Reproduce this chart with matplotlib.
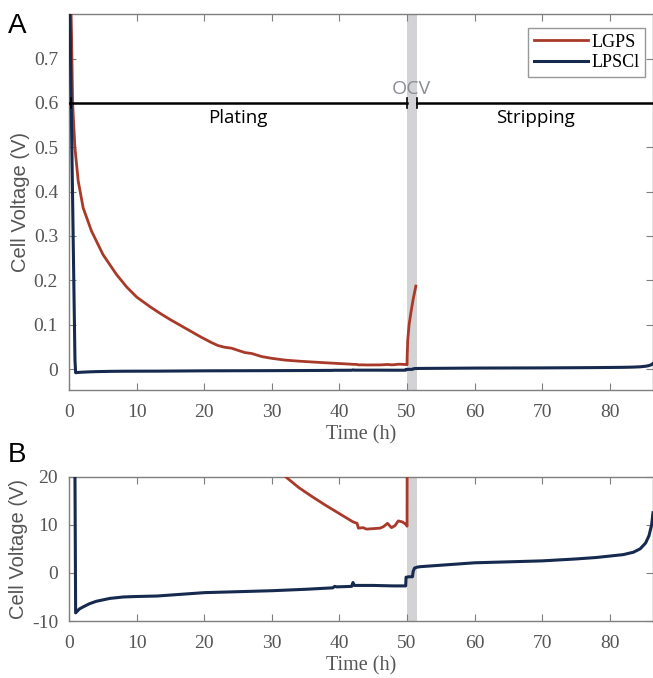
import numpy as np
import matplotlib.pyplot as plt

plt.rcParams['font.family'] = ['Liberation Serif', 'DejaVu Serif']
plt.rcParams['axes.unicode_minus'] = False

# cell voltage of the two Li | SE | Li cells (V)
t_lgps = [0.25, 0.35, 0.5, 0.84, 1.33, 2.07, 3.3, 5.0, 7.0, 8.5, 10.0, 12.0, 13.5, 15.0,
          16.5, 18.0, 19.5, 21.0, 22.0, 23.0, 24.0, 25.0, 26.0, 27.0, 28.5, 30.0, 32.0,
          34.0, 36.0, 38.0, 40.0, 42.0, 42.6, 42.8, 43.5, 44.0, 45.0, 46.0, 46.5, 47.1,
          47.7, 48.2, 48.7, 49.3, 49.9, 50.0, 50.02, 50.1, 50.3, 50.6, 50.9, 51.3]
v_lgps = [0.82, 0.75, 0.60, 0.50, 0.424, 0.363, 0.311, 0.258, 0.213, 0.185, 0.162, 0.140,
          0.125, 0.111, 0.098, 0.085, 0.072, 0.060, 0.053, 0.049, 0.047, 0.042, 0.037,
          0.035, 0.028, 0.024, 0.0200, 0.0177, 0.0158, 0.0140, 0.0123, 0.0106, 0.0103,
          0.0093, 0.0094, 0.0091, 0.0092, 0.0093, 0.0096, 0.0103, 0.0094, 0.0098, 0.0108,
          0.0106, 0.0100, 0.0097, 0.030, 0.065, 0.10, 0.13, 0.157, 0.187]

t_lpscl = [0.0, 0.1, 0.85, 0.95, 1.5, 2.0, 3.0, 4.0, 5.0, 6.0, 8.0, 10.0, 13.0, 16.0, 20.0,
           25.0, 30.0, 35.0, 39.0, 39.3, 39.6, 41.8, 42.0, 42.2, 45.0, 48.0, 49.8, 49.85,
           50.3, 50.8, 50.9, 51.1, 51.5, 52.0, 55.0, 60.0, 65.0, 70.0, 75.0, 78.0, 80.0,
           82.0, 83.5, 84.5, 85.3, 85.8, 86.2, 86.4]
v_lpscl = [0.90, 0.80, 0.02, -0.0083, -0.0075, -0.0071, -0.0064, -0.0059, -0.0056, -0.0053,
           -0.0050, -0.0049, -0.0048, -0.0045, -0.0041, -0.0039, -0.0037, -0.0034, -0.0031,
           -0.0028, -0.0029, -0.0028, -0.0020, -0.0026, -0.0026, -0.0027, -0.0027, -0.0009,
           -0.0008, -0.0008, 0.0003, 0.0010, 0.0012, 0.0013, 0.0016, 0.0021, 0.0023, 0.0025,
           0.0029, 0.0032, 0.0035, 0.0038, 0.0043, 0.0050, 0.0062, 0.0077, 0.0100, 0.0125]

x_ticks = [0, 10, 20, 30, 40, 50, 60, 70, 80]
ocv_start, ocv_end = 49.95, 51.45
t_end = 86.4

red = '#a93a2a'
navy = '#16294f'
gray = '#7f7f7f'
tick_col = '#555555'

serif = ['Liberation Serif', 'DejaVu Serif']
sans = ['Liberation Sans', 'DejaVu Sans']
myriad = ['Open Sans', 'DejaVu Sans']

fig = plt.figure(figsize=(6.53, 6.78), dpi=100)
axA = fig.add_axes([0.106, 0.425, 0.894, 0.554])
axB = fig.add_axes([0.106, 0.084, 0.894, 0.213])


def style_axes(ax):
    for s in ax.spines.values():
        s.set_color(gray)
        s.set_linewidth(1.0)
    ax.tick_params(direction='in', top=True, right=True, colors=gray, length=5, width=0.8,
                   labelcolor=tick_col, labelsize=14)
    ax.tick_params(axis='x', pad=10)
    ax.tick_params(axis='y', pad=8)
    ax.set_xlim(0, t_end)
    ax.set_xticks(x_ticks)
    for lbl in ax.get_xticklabels() + ax.get_yticklabels():
        lbl.set_fontfamily(serif)
    ax.set_xlabel('Time (h)', family=serif, fontsize=14.5, color=tick_col, labelpad=3)
    ax.set_ylabel('Cell Voltage (V)', family=sans, fontsize=14.5, color=tick_col, labelpad=3)


# panel A: full voltage range
axA.axvspan(ocv_start, ocv_end, color='#d3d3d5', lw=0, zorder=0)
axA.plot(t_lgps, v_lgps, color=red, lw=2, label='LGPS', zorder=3)
axA.plot(t_lpscl, v_lpscl, color=navy, lw=2.2, label='LPSCl', zorder=3)
axA.set_ylim(-0.047, 0.8)
axA.set_yticks([0, 0.1, 0.2, 0.3, 0.4, 0.5, 0.6, 0.7])
axA.set_yticklabels(['0', '0.1', '0.2', '0.3', '0.4', '0.5', '0.6', '0.7'])
style_axes(axA)

# plating / OCV / stripping bars
axA.plot([0, ocv_start], [0.6, 0.6], color='black', lw=1.8, zorder=4)
axA.plot([ocv_end, t_end], [0.6, 0.6], color='black', lw=1.8, zorder=4)
for xc in [0.2, ocv_start, ocv_end]:
    axA.plot([xc, xc], [0.588, 0.612], color='black', lw=1.2, zorder=4)
axA.text(25, 0.565, 'Plating', family=myriad, fontsize=13.5, ha='center', va='center')
axA.text(69, 0.565, 'Stripping', family=myriad, fontsize=13.5, ha='center', va='center')
axA.text((ocv_start + ocv_end) / 2, 0.612, 'OCV', family=myriad, fontsize=14,
         color='#8a8d93', ha='center', va='bottom')

leg = axA.legend(loc='upper right', bbox_to_anchor=(0.986, 0.963), borderaxespad=0,
                 prop={'family': serif, 'size': 13}, fancybox=False, edgecolor=gray,
                 handlelength=3.0, borderpad=0.3, labelspacing=0.2, handletextpad=0.2)
leg.get_frame().set_linewidth(1.0)

# panel B: zoom on the low-voltage region (mV)
axB.axvspan(ocv_start, ocv_end, color='#d3d3d5', lw=0, zorder=0)
axB.plot(t_lgps, np.array(v_lgps) * 1000, color=red, lw=2, zorder=3)
axB.plot(t_lpscl, np.array(v_lpscl) * 1000, color=navy, lw=2.2, zorder=3)
axB.set_ylim(-10, 20)
axB.set_yticks([-10, 0, 10, 20])
style_axes(axB)

fig.text(0.012, 0.962, 'A', family=sans, fontsize=20, va='center')
fig.text(0.012, 0.329, 'B', family=sans, fontsize=20, va='center')

fig.savefig('out.png', dpi=100)
